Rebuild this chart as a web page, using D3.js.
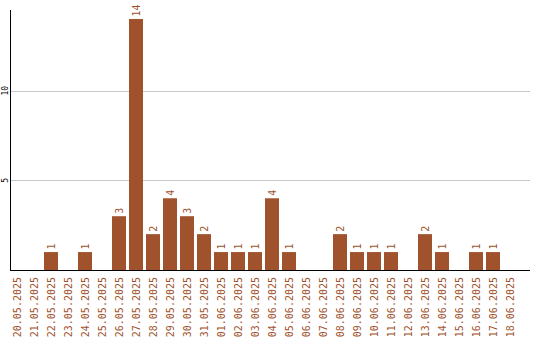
<!DOCTYPE html>
<html><head><meta charset="utf-8">
<script src="https://cdn.jsdelivr.net/npm/d3@7"></script>
<style>body{margin:0;background:#fff}</style>
</head><body>
<svg id="c" width="540" height="340"></svg>
<script>
const categories = ["20.05.2025","21.05.2025","22.05.2025","23.05.2025","24.05.2025","25.05.2025","26.05.2025","27.05.2025","28.05.2025","29.05.2025","30.05.2025","31.05.2025","01.06.2025","02.06.2025","03.06.2025","04.06.2025","05.06.2025","06.06.2025","07.06.2025","08.06.2025","09.06.2025","10.06.2025","11.06.2025","12.06.2025","13.06.2025","14.06.2025","15.06.2025","16.06.2025","17.06.2025","18.06.2025"];
const values = [0,0,1,0,1,0,3,14,2,4,3,2,1,1,1,4,1,0,0,2,1,1,1,0,2,1,0,1,1,0];
const yTicks = [5,10];

(function(){
const svg = d3.select("#c");
const color = "#a0522d";
const mLeft = 10, mRight = 530, mTop = 10, mBottom = 270;
const x = d3.scaleBand().domain(categories).range([mLeft, mLeft + 17*categories.length]).paddingInner(0).paddingOuter(0);
const y = d3.scaleLinear().domain([0, 14.5]).range([mBottom, mTop]);
const bw = 14;

svg.append("g").selectAll("line").data(yTicks).join("line")
  .attr("x1", mLeft).attr("x2", mRight)
  .attr("y1", d => Math.round(y(d)) + 0.5).attr("y2", d => Math.round(y(d)) + 0.5)
  .attr("stroke", "#c8c8c8").attr("stroke-width", 1);

svg.append("g").selectAll("text").data(yTicks).join("text")
  .attr("transform", d => `translate(8,${y(d)}) rotate(-90)`)
  .attr("text-anchor", "middle")
  .attr("font-family", "DejaVu Sans Mono, monospace").attr("font-size", 8)
  .attr("fill", "#000").text(d => d);

const data = categories.map((c, i) => ({c, v: values[i]}));
svg.append("g").selectAll("rect").data(data.filter(d => d.v > 0)).join("rect")
  .attr("x", d => x(d.c)).attr("width", bw)
  .attr("y", d => y(d.v)).attr("height", d => mBottom - y(d.v))
  .attr("fill", color);

svg.append("g").selectAll("text").data(data.filter(d => d.v > 0)).join("text")
  .attr("transform", d => `translate(${x(d.c) + bw/2 + 3.5},${y(d.v) - 2.5}) rotate(-90)`)
  .attr("text-anchor", "start")
  .attr("font-family", "DejaVu Sans Mono, monospace").attr("font-size", 10)
  .attr("fill", color).text(d => d.v);

svg.append("g").selectAll("text").data(categories).join("text")
  .attr("transform", d => `translate(${x(d) + bw/2 + 3.5},277) rotate(-90)`)
  .attr("text-anchor", "end")
  .attr("font-family", "DejaVu Sans Mono, monospace").attr("font-size", 10)
  .attr("fill", color).text(d => d);

svg.append("line").attr("x1", mLeft + 0.5).attr("x2", mLeft + 0.5).attr("y1", mTop).attr("y2", mBottom)
  .attr("stroke", "#000").attr("stroke-width", 1);
svg.append("line").attr("x1", mLeft).attr("x2", mRight).attr("y1", mBottom + 0.5).attr("y2", mBottom + 0.5)
  .attr("stroke", "#000").attr("stroke-width", 1);
})();
</script>
</body></html>
